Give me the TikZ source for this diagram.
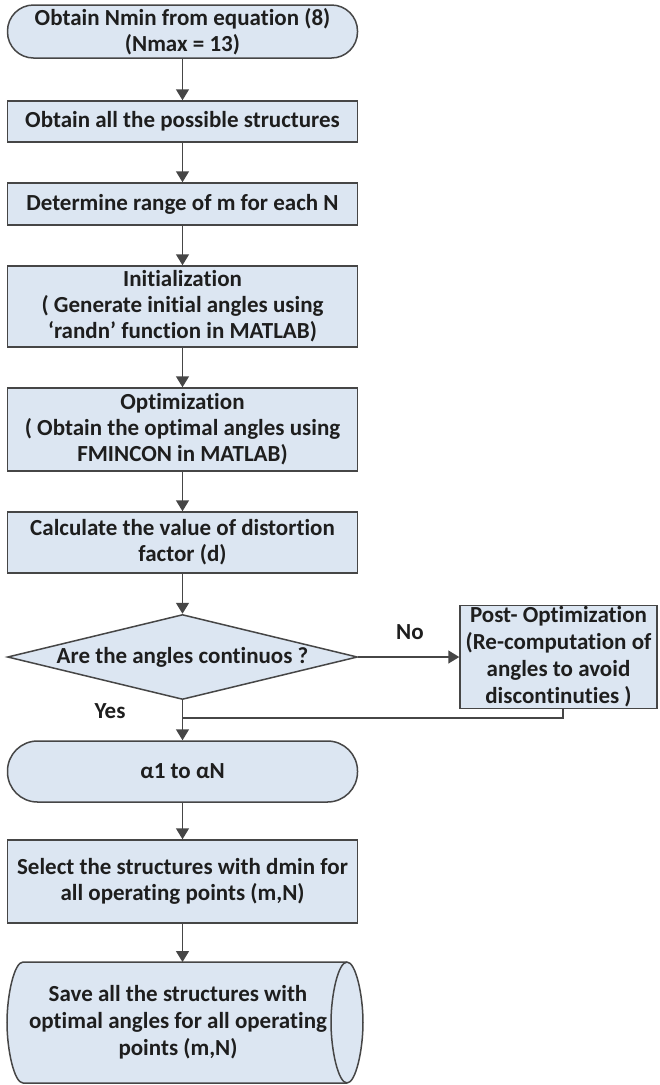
\documentclass[tikz,border=0pt]{standalone}
\usepackage{fontspec}
\setmainfont[Ligatures={NoCommon}]{Carlito}
\usetikzlibrary{shapes.geometric,arrows.meta}
\definecolor{boxfill}{HTML}{DCE6F2}
\definecolor{edge}{HTML}{464646}
\definecolor{txt}{HTML}{1E1E1E}
\begin{document}
\begin{tikzpicture}[x=1pt,y=-1pt,
  every node/.style={font=\fontsize{23}{26}\selectfont\bfseries, text=txt, align=center},
  proc/.style={draw=edge, fill=boxfill, line width=1.5pt, minimum width=350pt, inner sep=0pt},
  term/.style={proc},
  decision/.style={diamond, draw=edge, fill=boxfill, line width=1.5pt, minimum width=350pt, minimum height=85pt, aspect=4.1, inner sep=0pt},
  storeshape/.style={draw=edge, fill=boxfill, line width=1.5pt},
  conn/.style={draw=edge, line width=1.5pt},
  arr/.style={conn, -{Triangle[length=11pt,width=13pt]}},
  lbl/.style={}]
\useasboundingbox (0,0) rectangle (660,1085);
\fill[white] (0,0) rectangle (660,1085);

\node[term, minimum height=53pt, rounded corners=26pt] (start) at (182.5,31.5) {Obtain Nmin from equation (8)\\(Nmax = 13)};
\node[proc, minimum height=41pt] (b2) at (182.5,121.5) {Obtain all the possible structures};
\node[proc, minimum height=42pt] (b3) at (182.5,204) {Determine range of m for each N};
\node[proc, minimum height=81pt] (b4) at (182.5,306.5) {Initialization\\( Generate initial angles using\\‘randn’ function in MATLAB)};
\node[proc, minimum height=83pt] (b5) at (182.5,429.5) {Optimization\\( Obtain the optimal angles using\\FMINCON in MATLAB)};
\node[proc, minimum height=61pt] (b6) at (182.5,542.5) {Calculate the value of distortion\\factor (d)};
\node[decision] (dec) at (182.5,657) {Are the angles continuos ?};
\node[proc, minimum width=197pt, minimum height=103pt, font=\fontsize{23}{27}\selectfont\bfseries] (post) at (558.5,657) {Post- Optimization\\(Re-computation of\\angles to avoid\\discontinuties )};
\node[term, minimum height=61pt, rounded corners=30pt] (alpha) at (182.5,771.5) {α1 to αN};
\node[proc, minimum height=83pt] (sel) at (182.5,881.5) {Select the structures with dmin for\\all operating points (m,N)};

% stored-data (horizontal cylinder) outline
\path[storeshape] (23,962) -- (347,962)
  .. controls (355.8,962) and (363,995.1) .. (363,1022.5)
  .. controls (363,1049.9) and (355.8,1083) .. (347,1083)
  -- (23,1083)
  .. controls (14.2,1083) and (7,1049.9) .. (7,1022.5)
  .. controls (7,995.1) and (14.2,962) .. (23,962) -- cycle;
\draw[storeshape, fill=none] (347,962)
  .. controls (338.2,962) and (331,995.1) .. (331,1022.5)
  .. controls (331,1049.9) and (338.2,1083) .. (347,1083);
\node[inner sep=0pt, minimum width=300pt, minimum height=121pt, font=\fontsize{23}{27}\selectfont\bfseries] (save) at (178,1022.5) {Save all the structures with\\optimal angles for all operating\\points (m,N)};

\node[lbl] (no) at (410,632) {No};
\node[lbl] (yes) at (110,711) {Yes};

\coordinate (stub) at (563,0);
\coordinate (j) at (182.5,718);
\coordinate (savetop) at (182.5,962);

\draw[arr] (start.south) -- (b2.north);
\draw[arr] (b2.south) -- (b3.north);
\draw[arr] (b3.south) -- (b4.north);
\draw[arr] (b4.south) -- (b5.north);
\draw[arr] (b5.south) -- (b6.north);
\draw[arr] (b6.south) -- (dec.north);
\draw[arr] (dec.east) -- (post.west);
\draw[conn] (post.south -| stub) |- (j);
\draw[arr] (dec.south) -- (alpha.north);
\draw[arr] (alpha.south) -- (sel.north);
\draw[arr] (sel.south) -- (savetop);
\end{tikzpicture}
\end{document}
